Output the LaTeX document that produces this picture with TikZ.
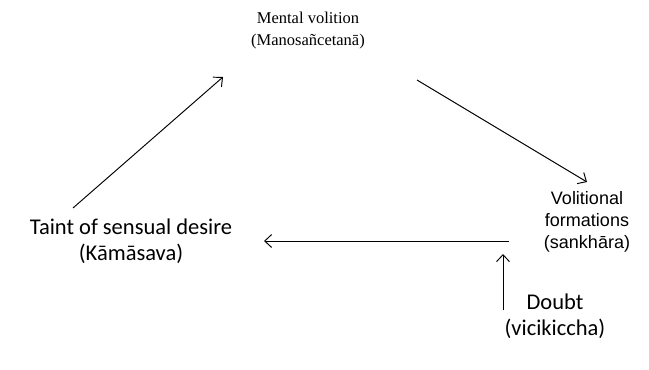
\documentclass[tikz,border=0pt]{standalone}
\usepackage{fontspec}
\setmainfont{Liberation Serif}
\newfontfamily\calibrifont{Carlito}
\newfontfamily\arialfont{Liberation Sans}
\usetikzlibrary{arrows.meta}
\begin{document}
\begin{tikzpicture}[x=1pt,y=-1pt,
  lbl/.style={align=center,inner sep=0pt,text=black},
  serifl/.style={lbl,font=\fontsize{16.5}{22}\selectfont},
  calil/.style={lbl,font=\calibrifont\fontsize{22.5}{26.5}\selectfont},
  ariall/.style={lbl,font=\arialfont\fontsize{18}{22}\selectfont},
  conn/.style={draw=black,line width=0.95pt,-{Straight Barb[length=7pt,width=13pt,line width=0.95pt]}}]
\useasboundingbox[fill=white] (0,0) rectangle (649,370);

% labels
\node[serifl] (mv) at (308,31) {Mental volition\\(Manosañcetanā)};
\node[calil] (taint) at (131,241) {Taint of sensual desire\\(Kāmāsava)};
\node[ariall] (vf) at (587,222) {Volitional\\formations\\(sankhāra)};
\node[calil] (doubt) at (555,316) {Doubt\\(vicikiccha)};

% connector end points
\coordinate (t1) at (73,208);
\coordinate (h1) at (223,77);
\coordinate (t2) at (417,80);
\coordinate (h2) at (587,182);
\coordinate (t3) at (509,241);
\coordinate (h3) at (264,241);
\coordinate (t4) at (503,310);
\coordinate (h4) at (503,254);

\draw[conn] (t1) -- (h1);
\draw[conn] (t2) -- (h2);
\draw[conn] (t3) -- (h3);
\draw[conn] (t4) -- (h4);
\end{tikzpicture}
\end{document}
